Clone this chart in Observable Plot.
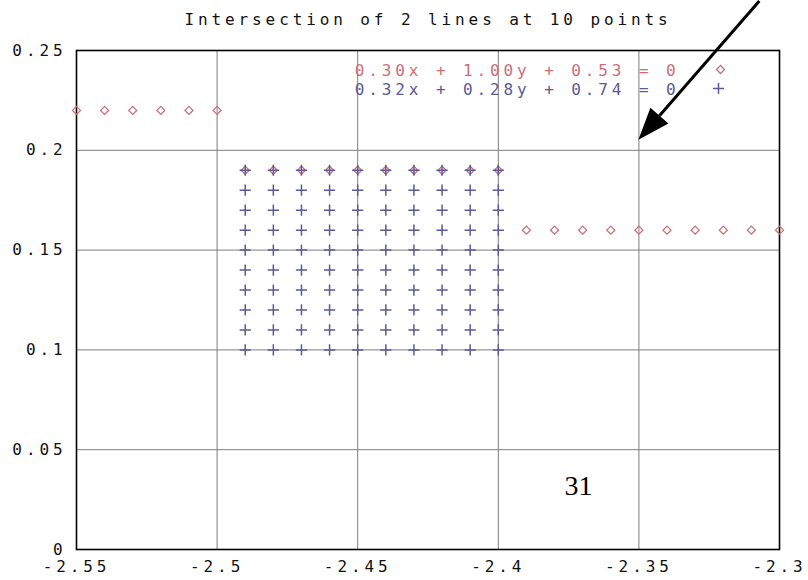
<!DOCTYPE html>
<html>
<head>
<meta charset="utf-8">
<script src="https://cdn.jsdelivr.net/npm/d3@7"></script>
<script src="https://cdn.jsdelivr.net/npm/@observablehq/plot@0.6"></script>
<style>
  html, body { margin: 0; padding: 0; background: #fff; }
</style>
</head>
<body>
<div id="chart"></div>
<script>
// Axis ticks and their printed labels
const xTicks = [-2.55, -2.5, -2.45, -2.4, -2.35, -2.3];
const xTickLabels = ["-2.55", "-2.5", "-2.45", "-2.4", "-2.35", "-2.3"];
const yTicks = [0, 0.05, 0.1, 0.15, 0.2, 0.25];
const yTickLabels = ["0", "0.05", "0.1", "0.15", "0.2", "0.25"];

const titleText = ["Intersection of 2 lines at 10 points"];
const seriesNames = ["0.30x + 1.00y + 0.53 = 0", "0.32x + 0.28y + 0.74 = 0"];
const seriesColors = ["#cc6e7a", "#5a5a98"];

// Line 1 (diamonds): sampled points of the first line
const line1X = [-2.55, -2.54, -2.53, -2.52, -2.51, -2.50,
                -2.49, -2.48, -2.47, -2.46, -2.45, -2.44, -2.43, -2.42, -2.41, -2.40,
                -2.39, -2.38, -2.37, -2.36, -2.35, -2.34, -2.33, -2.32, -2.31, -2.30];
const line1Y = [0.22, 0.22, 0.22, 0.22, 0.22, 0.22,
                0.19, 0.19, 0.19, 0.19, 0.19, 0.19, 0.19, 0.19, 0.19, 0.19,
                0.16, 0.16, 0.16, 0.16, 0.16, 0.16, 0.16, 0.16, 0.16, 0.16];

// Line 2 (pluses): a block of columns by rows
const line2Cols = [-2.49, -2.48, -2.47, -2.46, -2.45, -2.44, -2.43, -2.42, -2.41, -2.40];
const line2Rows = [0.10, 0.11, 0.12, 0.13, 0.14, 0.15, 0.16, 0.17, 0.18, 0.19];

// Annotation arrow (tail -> tip) and page number
const arrowTail = [-2.307, 0.2745];
const arrowTip = [-2.35, 0.205];
const pageNumber = ["31"];
const pageNumberAt = [-2.3715, 0.032];

const line1 = line1X.map((x, i) => ({x, y: line1Y[i]}));
const line2 = line2Cols.flatMap(x => line2Rows.map(y => ({x, y})));
const arrow = [{x1: arrowTail[0], y1: arrowTail[1], x2: arrowTip[0], y2: arrowTip[1]}];

// Draws a thick line ending in a filled triangular head
function filledArrow(index, scales, values, dimensions, context) {
  const g = d3.create("svg:g");
  for (const i of index) {
    const d = arrow[i];
    const x1 = scales.x(d.x1), y1 = scales.y(d.y1);
    const x2 = scales.x(d.x2), y2 = scales.y(d.y2);
    const a = Math.atan2(y2 - y1, x2 - x1);
    const L = 32, W = 12;
    const bx = x2 - L * Math.cos(a), by = y2 - L * Math.sin(a);
    const px = -Math.sin(a) * W, py = Math.cos(a) * W;
    g.append("line")
      .attr("x1", x1).attr("y1", y1).attr("x2", bx).attr("y2", by)
      .attr("stroke", "#000").attr("stroke-width", 3);
    g.append("path")
      .attr("d", `M${x2},${y2}L${bx + px},${by + py}L${bx - px},${by - py}Z`)
      .attr("fill", "#000");
  }
  return g.node();
}

// Small inward tick marks along the frame edges
function frameTicks(index, scales, values, dimensions, context) {
  const g = d3.create("svg:g").attr("stroke", "#000").attr("stroke-width", 1.2);
  const {marginLeft: l, marginTop: t, width, height, marginRight: r, marginBottom: b} = dimensions;
  const right = width - r, bottom = height - b;
  for (const v of xTicks.slice(1, -1)) {
    const x = scales.x(v);
    g.append("line").attr("x1", x).attr("x2", x).attr("y1", bottom).attr("y2", bottom - 7);
    g.append("line").attr("x1", x).attr("x2", x).attr("y1", t).attr("y2", t + 7);
  }
  for (const v of yTicks.slice(1, -1)) {
    const y = scales.y(v);
    g.append("line").attr("x1", l).attr("x2", l + 7).attr("y1", y).attr("y2", y);
    g.append("line").attr("x1", right).attr("x2", right - 7).attr("y1", y).attr("y2", y);
  }
  return g.node();
}

const chart = Plot.plot({
  width: 808,
  height: 580,
  marginLeft: 76,
  marginRight: 29,
  marginTop: 50,
  marginBottom: 31,
  style: {
    fontFamily: "'DejaVu Sans Mono', monospace",
    fontSize: "16px",
    letterSpacing: "3.9px",
    color: "#111",
    background: "#fff",
    overflow: "visible"
  },
  x: {domain: [-2.55, -2.3]},
  y: {domain: [0, 0.25]},
  marks: [
    Plot.gridX(xTicks, {stroke: "#7e7e7e", strokeOpacity: 1}),
    Plot.gridY(yTicks, {stroke: "#7e7e7e", strokeOpacity: 1}),
    Plot.axisX(xTicks, {
      anchor: "bottom", tickSize: 0, tickPadding: 11, label: null,
      tickFormat: d => xTickLabels[xTicks.indexOf(d)]
    }),
    Plot.axisY(yTicks, {
      anchor: "left", tickSize: 0, tickPadding: 10, label: null,
      tickFormat: d => yTickLabels[yTicks.indexOf(d)]
    }),
    Plot.frame({stroke: "#000", strokeWidth: 1.6}),
    Plot.dot([0], {render: frameTicks}),
    Plot.dot(line1, {x: "x", y: "y", symbol: "diamond2", r: 3.6, stroke: seriesColors[0], strokeWidth: 1.3, clip: false}),
    Plot.dot(line2, {x: "x", y: "y", symbol: "plus", r: 3.7, stroke: seriesColors[1], strokeWidth: 1.5}),
    Plot.text(titleText, {frameAnchor: "top", dy: -37, fill: "#111"}),
    Plot.text([seriesNames[0]], {frameAnchor: "top-right", dx: -100, dy: 14, textAnchor: "end", fill: seriesColors[0]}),
    Plot.text([seriesNames[1]], {frameAnchor: "top-right", dx: -100, dy: 33, textAnchor: "end", fill: seriesColors[1]}),
    Plot.dot([seriesNames[0]], {frameAnchor: "top-right", dx: -59, dy: 19, symbol: "diamond2", r: 3.6, stroke: seriesColors[0], strokeWidth: 1.3}),
    Plot.dot([seriesNames[1]], {frameAnchor: "top-right", dx: -61, dy: 38, symbol: "plus", r: 3.7, stroke: seriesColors[1], strokeWidth: 1.5}),
    Plot.link(arrow, {x1: "x1", y1: "y1", x2: "x2", y2: "y2", render: filledArrow}),
    Plot.text(pageNumber, {
      x: () => pageNumberAt[0], y: () => pageNumberAt[1],
      fontFamily: "'Liberation Serif', serif", fontSize: 28, fill: "#000",
      render: (index, scales, values, dimensions, context, next) => {
        const g = next(index, scales, values, dimensions, context);
        g.style.letterSpacing = "0px";
        return g;
      }
    })
  ]
});

document.getElementById("chart").appendChild(chart);
</script>
</body>
</html>
